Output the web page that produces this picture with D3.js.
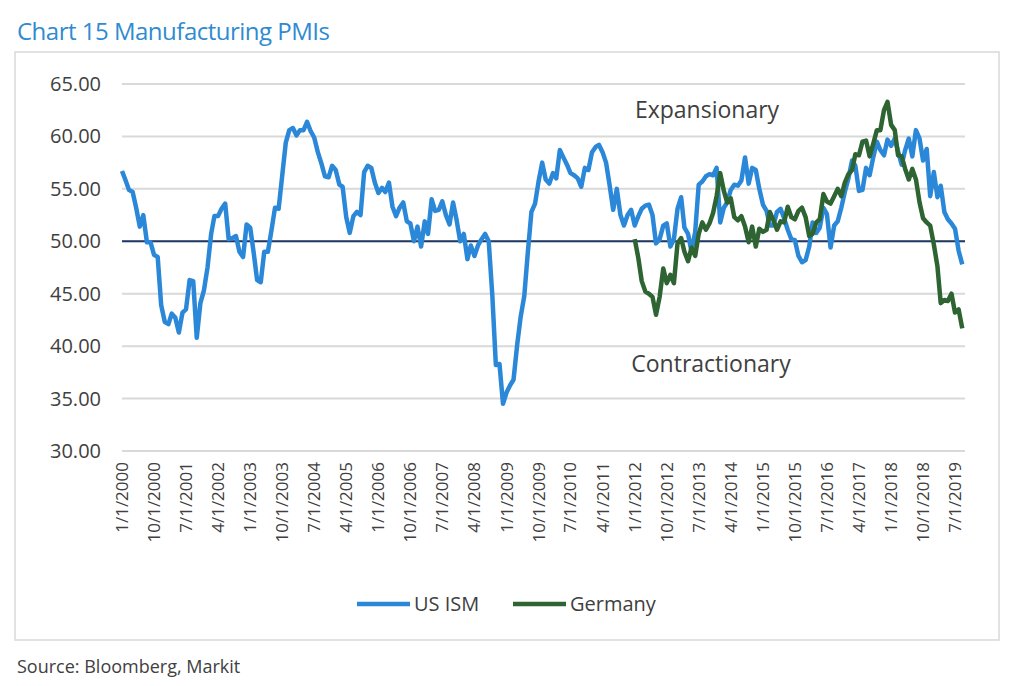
<!DOCTYPE html>
<html><head><meta charset="utf-8">
<script src="https://cdn.jsdelivr.net/npm/d3@7"></script>
<style>body{margin:0;background:#fff;font-family:"Open Sans","Noto Sans",sans-serif}</style>
</head><body><svg id="c" width="1024" height="686"></svg>
<script>
const ism = [
56.7,55.8,54.9,54.7,53.2,51.4,52.5,49.9,49.9,48.7,48.5,43.9,
42.3,42.1,43.1,42.7,41.3,43.2,43.5,46.3,46.2,40.8,44.1,45.3,
47.5,50.7,52.4,52.4,53.1,53.6,50.2,50.3,50.5,49.0,48.5,51.6,
51.3,48.8,46.3,46.1,49.0,49.0,51.0,53.2,53.1,56.2,59.4,60.6,
60.8,60.1,60.6,60.6,61.4,60.5,59.9,58.5,57.4,56.2,56.1,57.2,
56.8,55.4,55.2,52.3,50.8,52.4,52.8,52.5,56.6,57.2,57.0,55.6,
54.6,55.1,54.7,55.6,53.3,52.4,53.2,53.7,51.9,51.7,50.0,51.4,
49.5,51.9,50.7,54.0,52.9,53.0,53.8,52.5,51.6,53.7,52.0,50.0,
50.7,48.3,49.6,48.6,49.6,50.2,50.7,50.0,44.8,38.2,38.3,34.5,
35.6,36.3,36.8,40.1,42.8,44.8,48.9,52.8,53.6,55.7,57.5,55.9,
55.5,56.5,56.0,58.7,58.0,57.3,56.5,56.3,56.0,55.2,57.0,56.8,
58.5,59.0,59.2,58.5,57.5,55.3,53.0,55.0,52.5,51.5,52.5,53.0,
51.5,52.4,53.1,53.4,53.5,52.5,49.8,50.2,51.5,51.7,49.5,50.2,
53.1,54.2,51.3,50.7,49.0,50.9,55.4,55.7,56.2,56.4,56.3,57.0,
51.8,53.2,53.7,54.9,55.4,55.3,55.8,58.0,55.5,57.0,56.8,55.0,
53.5,52.9,51.5,51.5,52.8,53.1,52.2,51.1,50.2,50.1,48.6,48.0,
48.2,49.5,51.8,50.8,51.3,53.2,52.6,49.4,51.5,51.9,53.2,54.7,
56.0,57.7,57.2,54.8,54.9,57.0,56.3,58.0,59.5,58.7,58.2,59.7,
59.1,59.8,58.6,57.3,58.7,59.8,58.1,60.6,59.8,57.7,58.8,54.3,
56.6,54.2,55.3,52.8,52.1,51.7,51.2,49.1,47.8
];
const germany = [
50.2,48.4,46.2,45.2,45.0,44.7,43.0,44.7,47.4,46.0,46.8,46.0,
49.8,50.3,49.0,48.1,49.4,48.6,50.7,51.8,51.1,51.7,52.7,54.3,
56.5,54.8,53.7,54.1,52.3,52.0,52.4,51.4,49.9,51.4,49.5,51.2,
50.9,51.1,52.8,52.0,51.1,51.9,51.8,53.3,52.3,52.1,52.9,53.2,
52.3,50.5,50.7,51.8,52.1,54.5,53.8,53.6,54.3,55.0,54.3,55.6,
56.4,56.8,58.3,58.2,59.5,59.6,58.1,59.3,60.6,60.6,62.5,63.3,
61.1,60.6,58.2,58.1,56.9,55.9,56.9,55.9,53.7,52.2,51.8,51.5,
49.7,47.6,44.1,44.4,44.3,45.0,43.2,43.5,41.7
];
const yTicks = [30,35,40,45,50,55,60,65];
const xTickLabels = d3.range(0,235,9).map(m=>{const y=2000+Math.floor(m/12), mo=m%12+1; return mo+"/1/"+y;});

const svg = d3.select("#c");
const x = d3.scaleTime().domain([new Date(2000,0,1), new Date(2019,6,1)]).range([122,955]);
const y = d3.scaleLinear().domain([30,65]).range([451,84]);
const ismPts = ism.map((v,i)=>({d:new Date(2000,i,1),v}));
const gerPts = germany.map((v,i)=>({d:new Date(2012,i,1),v}));

svg.append("rect").attr("x",15).attr("y",52).attr("width",984).attr("height",588).attr("fill","none").attr("stroke","#d9d9d9").attr("stroke-width",1.5);
svg.append("text").attr("x",17).attr("y",40).attr("fill","#2f8bd1").attr("font-size",24).attr("letter-spacing",-0.5).text("Chart 15 Manufacturing PMIs");

svg.append("g").selectAll("line").data(yTicks).join("line")
 .attr("x1",122).attr("x2",965).attr("y1",d=>y(d)).attr("y2",d=>y(d)).attr("stroke","#d9d9d9").attr("stroke-width",2);
svg.append("g").selectAll("text").data(yTicks).join("text")
 .attr("x",101).attr("y",d=>y(d)+7).attr("text-anchor","end").attr("font-size",20).attr("fill","#404040").text(d=>d.toFixed(2));
svg.append("g").selectAll("text").data(xTickLabels).join("text")
 .attr("transform",d=>{const p=d.split("/");const xx=x(new Date(+p[2],+p[0]-1,1));return `translate(${xx+6},462) rotate(-90)`;})
 .attr("text-anchor","end").attr("font-size",17).attr("fill","#404040").text(d=>d);

svg.append("line").attr("x1",122).attr("x2",965).attr("y1",y(50)).attr("y2",y(50)).attr("stroke","#1f3864").attr("stroke-width",2);

const line = d3.line().x(d=>x(d.d)).y(d=>y(d.v));
svg.append("path").datum(ismPts).attr("d",line).attr("fill","none").attr("stroke","#2b88d8").attr("stroke-width",4.5).attr("stroke-linejoin","round");
svg.append("path").datum(gerPts).attr("d",line).attr("fill","none").attr("stroke","#2e6431").attr("stroke-width",4.5).attr("stroke-linejoin","round");

svg.append("text").attr("x",707).attr("y",118).attr("text-anchor","middle").attr("font-size",23).attr("fill","#404040").text("Expansionary");
svg.append("text").attr("x",711).attr("y",372).attr("text-anchor","middle").attr("font-size",23).attr("fill","#404040").text("Contractionary");

const lg = svg.append("g");
lg.append("line").attr("x1",357).attr("x2",410).attr("y1",604).attr("y2",604).attr("stroke","#2b88d8").attr("stroke-width",4.5);
lg.append("text").attr("x",414).attr("y",611).attr("font-size",20).attr("fill","#404040").text("US ISM");
lg.append("line").attr("x1",513).attr("x2",566).attr("y1",604).attr("y2",604).attr("stroke","#2e6431").attr("stroke-width",4.5);
lg.append("text").attr("x",570).attr("y",611).attr("font-size",20).attr("fill","#404040").text("Germany");

svg.append("text").attr("x",17).attr("y",673).attr("font-size",18).attr("fill","#404040").text("Source: Bloomberg, Markit");
</script></body></html>
